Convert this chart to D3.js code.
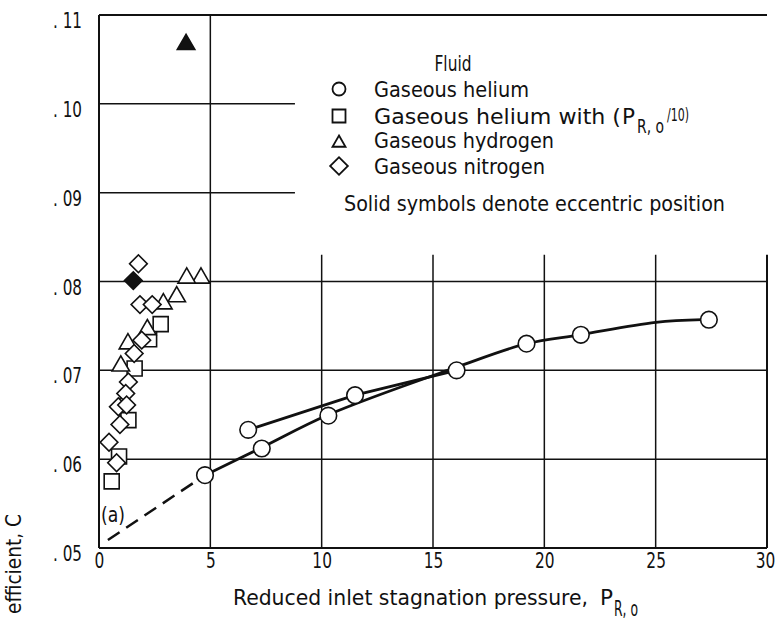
<!DOCTYPE html>
<html><head><meta charset="utf-8">
<script src="https://cdn.jsdelivr.net/npm/d3@7"></script>
<style>
html,body{margin:0;padding:0;background:#fff;}
svg text{font-family:"Liberation Sans Narrow","DejaVu Sans Condensed","DejaVu Sans",sans-serif;font-stretch:condensed;fill:#111;}
</style></head>
<body><svg id="c" width="779" height="623"></svg>
<script>
// ---- data ----
const xTicks = [0, 5, 10, 15, 20, 25, 30];
const yTicks = [0.05, 0.06, 0.07, 0.08, 0.09, 0.10, 0.11];
const heliumX = [4.76, 6.70, 7.31, 10.30, 11.50, 16.06, 19.20, 21.64, 27.39];
const heliumY = [0.0582, 0.0633, 0.0612, 0.0649, 0.0672, 0.0700, 0.0730, 0.0740, 0.0757];
const helium10X = [2.77, 2.25, 1.60, 1.32, 0.90, 0.57];
const helium10Y = [0.0752, 0.0735, 0.0702, 0.0644, 0.0603, 0.0575];
const hydrogenX = [4.58, 3.94, 3.49, 2.89, 2.17, 1.30, 0.98, 1.10];
const hydrogenY = [0.0805, 0.0805, 0.0784, 0.0776, 0.0747, 0.0731, 0.0706, 0.0665];
const hydrogenSolidX = [3.91];
const hydrogenSolidY = [0.1068];
const nitrogenX = [1.77, 1.84, 2.39, 1.92, 1.58, 1.32, 1.20, 0.87, 1.24, 0.94, 0.45, 0.79];
const nitrogenY = [0.0820, 0.0774, 0.0774, 0.0734, 0.0719, 0.0687, 0.0674, 0.0659, 0.0661, 0.0639, 0.0619, 0.0596];
const nitrogenSolidX = [1.54];
const nitrogenSolidY = [0.0801];
// faired curves
const fitX = [4.76, 7.3, 10.3, 16.0, 19.2, 21.6, 25.0, 27.1];
const fitY = [0.0582, 0.0613, 0.0650, 0.0703, 0.0730, 0.0740, 0.0754, 0.0757];
const dashX = [0.4, 4.76];
const dashY = [0.0509, 0.0582];
const upperX = [6.70, 11.50, 16.06];
const upperY = [0.0633, 0.0672, 0.0700];
const legendLabels = ["Gaseous helium", "Gaseous helium with (", "Gaseous hydrogen", "Gaseous nitrogen"];

// ---- layout ----
const svg = d3.select("#c");
const x = d3.scaleLinear([0, 30], [99, 767]);
const y = d3.scaleLinear([0.05, 0.11], [548, 15]);
const gridStopX = 8.8;     // short horizontal lines end here (legend cut-out)
const gridStopY = 0.0830;  // short vertical lines begin here

const g = svg.append("g");
yTicks.forEach(v => {
  const full = (v <= 0.08 || v >= 0.11);
  g.append("line").attr("x1", x(0)).attr("x2", full ? x(30) : x(gridStopX))
    .attr("y1", y(v)).attr("y2", y(v))
    .attr("stroke", "#111").attr("stroke-width", (v === 0.05 || v === 0.11) ? 2 : 1.5);
});
xTicks.forEach(v => {
  const full = (v <= 5);
  g.append("line").attr("x1", x(v)).attr("x2", x(v))
    .attr("y1", full ? y(0.11) : y(gridStopY)).attr("y2", y(0.05))
    .attr("stroke", "#111").attr("stroke-width", (v === 0 || v === 30) ? 2 : 1.5);
});

// tick labels through d3 axes
const ax = svg.append("g").attr("transform", `translate(0,${y(0.05)})`)
  .call(d3.axisBottom(x).tickValues(xTicks).tickSize(0).tickPadding(5).tickFormat(d3.format("d")));
ax.select(".domain").remove();
ax.selectAll("text").attr("font-size", 21).attr("fill", "#111")
  .attr("textLength", d => String(d).length * 9.8).attr("lengthAdjust", "spacingAndGlyphs")
  .attr("dx", d => d === 30 ? -2 : 0);

const ay = svg.append("g").attr("transform", `translate(${x(0)},0)`)
  .call(d3.axisLeft(y).tickValues(yTicks).tickSize(0).tickPadding(17)
    .tickFormat(d => ". " + String(Math.round(d * 100)).padStart(2, "0")));
ay.select(".domain").remove();
ay.selectAll("text").attr("font-size", 21).attr("dy", "0.6em").attr("fill", "#111")
  .attr("textLength", 29).attr("lengthAdjust", "spacingAndGlyphs");

// curves
const line = d3.line().x(d => x(d[0])).y(d => y(d[1]));
svg.append("path").datum(dashX.map((v, i) => [v, dashY[i]]))
  .attr("d", line).attr("fill", "none").attr("stroke", "#111").attr("stroke-width", 2.5)
  .attr("stroke-dasharray", "14,8");
svg.append("path").datum(fitX.map((v, i) => [v, fitY[i]]))
  .attr("d", d3.line().x(d => x(d[0])).y(d => y(d[1])).curve(d3.curveCatmullRom))
  .attr("fill", "none").attr("stroke", "#111").attr("stroke-width", 2.8);
svg.append("path").datum(upperX.map((v, i) => [v, upperY[i]]))
  .attr("d", line).attr("fill", "none").attr("stroke", "#111").attr("stroke-width", 2.8);

// markers
const sym = {
  circle: d3.symbol(d3.symbolCircle, Math.PI * 8.3 * 8.3),
  square: d3.symbol(d3.symbolSquare, 15 * 15),
  triangle: d3.symbol(d3.symbolTriangle, 0.433 * 17.5 * 17.5),
  diamond: d3.symbol(d3.symbolSquare, 12.5 * 12.5)
};
function plot(xs, ys, type, solid) {
  svg.append("g").selectAll("path").data(xs.map((v, i) => [v, ys[i]])).join("path")
    .attr("d", sym[type])
    .attr("transform", d => `translate(${x(d[0])},${y(d[1])})` + (type === "diamond" ? " rotate(45)" : "") + (type === "triangle" ? " translate(0,1)" : ""))
    .attr("fill", solid ? "#111" : "#fff").attr("stroke", "#111").attr("stroke-width", 1.6);
}
plot(heliumX, heliumY, "circle", false);
plot(helium10X, helium10Y, "square", false);
plot(hydrogenX, hydrogenY, "triangle", false);
plot(nitrogenX, nitrogenY, "diamond", false);
plot(hydrogenSolidX, hydrogenSolidY, "triangle", true);
plot(nitrogenSolidX, nitrogenSolidY, "diamond", true);

// legend
const lg = svg.append("g");
lg.append("text").attr("x", 453).attr("y", 71).attr("text-anchor", "middle").attr("font-size", 21)
  .attr("textLength", 37).attr("lengthAdjust", "spacingAndGlyphs").text("Fluid");
const rowsY = [97, 124, 148, 174];
const rowW = [155, 247, 180, 171];
const legSym = [
  d3.symbol(d3.symbolCircle, Math.PI * 6.5 * 6.5),
  d3.symbol(d3.symbolSquare, 13 * 13),
  d3.symbol(d3.symbolTriangle, 0.433 * 13 * 13),
  d3.symbol(d3.symbolSquare, 12.5 * 12.5)
];
legendLabels.forEach((t, i) => {
  lg.append("path").attr("d", legSym[i])
    .attr("transform", `translate(339,${rowsY[i] - 8 + (i === 2 ? 3 : 0)})` + (i === 3 ? " rotate(45)" : ""))
    .attr("fill", "#fff").attr("stroke", "#111").attr("stroke-width", 1.8);
  lg.append("text").attr("x", 374).attr("y", rowsY[i]).attr("font-size", 21)
    .attr("textLength", rowW[i]).attr("lengthAdjust", "spacingAndGlyphs").text(t);
});
lg.append("text").attr("x", 622).attr("y", rowsY[1]).attr("font-size", 21)
  .attr("textLength", 13).attr("lengthAdjust", "spacingAndGlyphs").text("P");
lg.append("text").attr("x", 637).attr("y", rowsY[1] + 9).attr("font-size", 20)
  .attr("textLength", 27).attr("lengthAdjust", "spacingAndGlyphs").text("R, o");
lg.append("text").attr("x", 667).attr("y", rowsY[1] - 3).attr("font-size", 18)
  .attr("textLength", 22).attr("lengthAdjust", "spacingAndGlyphs").text("/10)");
lg.append("text").attr("x", 344).attr("y", 211).attr("font-size", 21)
  .attr("textLength", 381).attr("lengthAdjust", "spacingAndGlyphs").text("Solid symbols denote eccentric position");

// (a)
svg.append("text").attr("x", 101).attr("y", 522).attr("font-size", 21)
  .attr("textLength", 24).attr("lengthAdjust", "spacingAndGlyphs").text("(a)");

// axis titles
svg.append("text").attr("x", 233).attr("y", 605).attr("font-size", 21)
  .attr("textLength", 355).attr("lengthAdjust", "spacingAndGlyphs").text("Reduced inlet stagnation pressure,");
svg.append("text").attr("x", 600).attr("y", 605).attr("font-size", 21)
  .attr("textLength", 13).attr("lengthAdjust", "spacingAndGlyphs").text("P");
svg.append("text").attr("x", 614).attr("y", 616).attr("font-size", 21)
  .attr("textLength", 24).attr("lengthAdjust", "spacingAndGlyphs").text("R, o");
svg.append("text").attr("transform", "translate(21,514) rotate(-90)").attr("text-anchor", "end")
  .attr("font-size", 21).attr("textLength", 100).attr("lengthAdjust", "spacingAndGlyphs").text("efficient, C");
</script></body></html>
